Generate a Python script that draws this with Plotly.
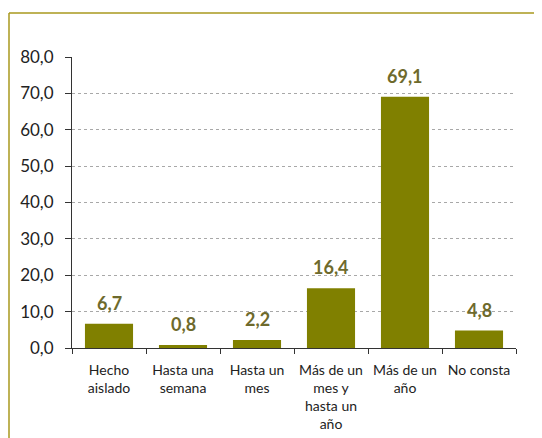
import plotly.graph_objects as go

categories = ['Hecho<br>aislado', 'Hasta una<br>semana', 'Hasta un<br>mes',
              'Más de un<br>mes y<br>hasta un<br>año', 'Más de un<br>año', 'No consta']
values = [6.7, 0.8, 2.2, 16.4, 69.1, 4.8]
y_ticks = [0, 10, 20, 30, 40, 50, 60, 70, 80]

# the page body has an 8px margin, so the figure sits 8px right and down
W, H = 542, 438
L, R, T, B = 64, 34, 49, 98
font_family = 'Lato, Noto Sans, sans-serif'

fig = go.Figure()
fig.add_trace(go.Bar(
    x=categories,
    y=values,
    width=0.65,
    marker=dict(color='#808000', line=dict(width=0)),
))

# value labels above each bar
for cat, val in zip(categories, values):
    fig.add_annotation(
        x=cat, y=val, text=f'{val:.1f}'.replace('.', ','),
        showarrow=False, yanchor='bottom', yshift=8,
        font=dict(family=font_family, size=18, color='#6e6a2c', weight='bold'),
    )

# frame of the original picture (top and left edges are visible)
pw, ph = W - L - R, H - T - B
x0 = (1 - L) / pw
y0 = 1 + (T - 5) / ph
fig.add_shape(type='line', xref='paper', yref='paper', x0=x0, x1=(W - L) / pw,
              y0=y0, y1=y0, line=dict(color='#a8981e', width=1.5))
fig.add_shape(type='line', xref='paper', yref='paper', x0=x0, x1=x0,
              y0=y0, y1=-B / ph, line=dict(color='#a8981e', width=1.5))

fig.update_layout(
    width=W, height=H,
    margin=dict(l=L, r=R, t=T, b=B, autoexpand=False),
    plot_bgcolor='white', paper_bgcolor='white',
    separators=',.',
    showlegend=False,
    font=dict(family=font_family, color='#222222'),
)
fig.update_yaxes(
    range=[0, 80], tickvals=y_ticks, tickformat='.1f', automargin=False,
    showgrid=True, gridcolor='#a8a8a8', griddash='dot', gridwidth=1,
    showline=True, linecolor='#333333', linewidth=1,
    ticks='outside', ticklen=6, tickcolor='#333333', ticklabelstandoff=8,
    tickfont=dict(size=17, color='#222222'), zeroline=False,
)
fig.update_xaxes(
    automargin=False,
    showline=True, linecolor='#333333', linewidth=1,
    ticks='outside', tickson='boundaries', ticklen=5, tickcolor='#333333',
    ticklabelstandoff=9,
    tickfont=dict(size=14, color='#222222'),
)

fig.write_html('out.html')
